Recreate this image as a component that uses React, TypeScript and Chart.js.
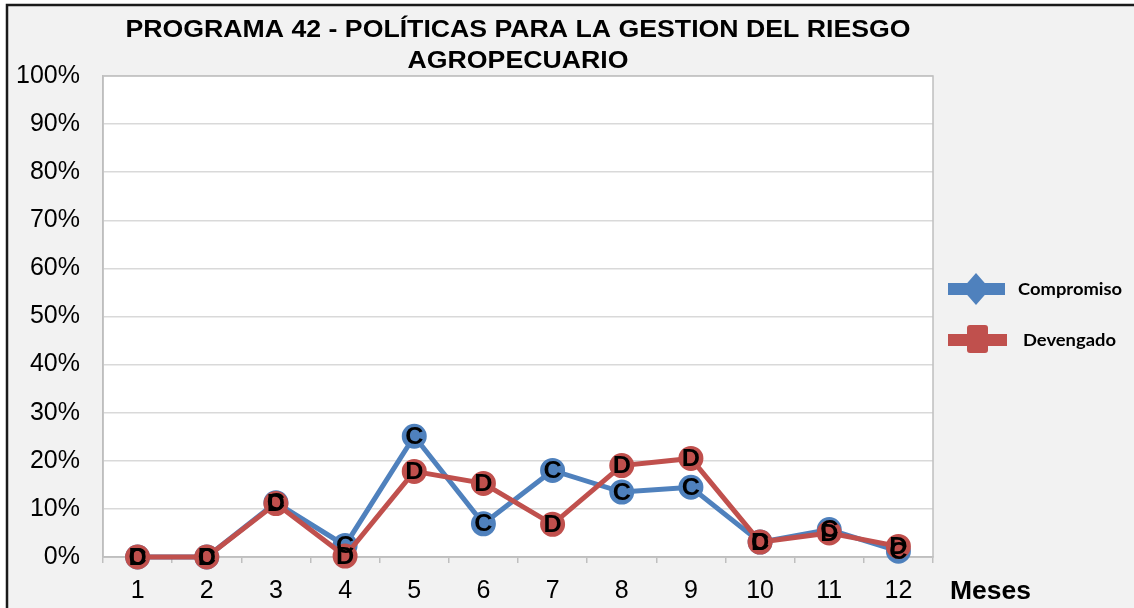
import React, { useEffect, useRef } from "react";
import { Chart, registerables } from "chart.js";

Chart.register(...registerables);

const months = ["1", "2", "3", "4", "5", "6", "7", "8", "9", "10", "11", "12"];
const compromiso = [0, 0, 11.3, 2.4, 25.1, 6.9, 18.0, 13.5, 14.5, 3.1, 5.7, 1.2];
const devengado = [0, 0, 11.1, 0.2, 17.8, 15.3, 6.8, 19.0, 20.5, 3.1, 5.0, 2.2];
const seriesNames = ["Compromiso", "Devengado"];
const pointLetters = ["C", "D"];
const titleLines = ["PROGRAMA 42 - POLÍTICAS PARA LA GESTION DEL RIESGO", "AGROPECUARIO"];
const axisTitle = "Meses";

const BLUE = "#4f81bd";
const RED = "#c0504d";
const STRETCH = 1.135;

function drawStretched(ctx: CanvasRenderingContext2D, text: string, x: number, y: number, font: string, align: "left" | "center", sx = STRETCH) {
  ctx.save();
  ctx.font = font;
  ctx.textBaseline = "middle";
  ctx.textAlign = align;
  ctx.translate(x, y);
  ctx.scale(sx, 1);
  ctx.fillText(text, 0, 0);
  ctx.restore();
}

const decorPlugin = {
  id: "decor",
  beforeDraw(chart: any) {
    const { ctx, chartArea } = chart;
    ctx.save();
    ctx.fillStyle = "#ffffff";
    ctx.fillRect(0, 0, chart.width, chart.height);
    ctx.fillStyle = "#f2f2f2";
    ctx.fillRect(7, 5, chart.width, chart.height);
    ctx.strokeStyle = "#1a1a1a";
    ctx.lineWidth = 2.5;
    ctx.beginPath();
    ctx.moveTo(7, chart.height + 5);
    ctx.lineTo(7, 5);
    ctx.lineTo(chart.width + 5, 5);
    ctx.stroke();
    ctx.fillStyle = "#ffffff";
    ctx.fillRect(chartArea.left, chartArea.top, chartArea.right - chartArea.left, chartArea.bottom - chartArea.top);
    ctx.restore();
  },
  afterDraw(chart: any) {
    const { ctx } = chart;
    ctx.save();
    ctx.fillStyle = "#000000";
    const titleFont = "bold 23.5px 'Liberation Sans', Arial, sans-serif";
    drawStretched(ctx, titleLines[0], 518, 31, titleFont, "center");
    drawStretched(ctx, titleLines[1], 518, 62, titleFont, "center");
    drawStretched(ctx, axisTitle, 950, 592, "bold 25px 'Liberation Sans', Arial, sans-serif", "left", 1.06);
    // legend: Compromiso
    ctx.fillStyle = BLUE;
    ctx.fillRect(948, 283, 57, 12);
    ctx.beginPath();
    ctx.moveTo(976, 273);
    ctx.lineTo(990, 289);
    ctx.lineTo(976, 305);
    ctx.lineTo(962, 289);
    ctx.closePath();
    ctx.fill();
    // legend: Devengado
    ctx.fillStyle = RED;
    ctx.fillRect(948, 334, 59, 12);
    ctx.beginPath();
    (ctx as any).roundRect ? (ctx as any).roundRect(967, 325, 21, 28, 3) : ctx.rect(967, 325, 21, 28);
    ctx.fill();
    ctx.fillStyle = "#000000";
    const legFont = "bold 17px Lato, 'Open Sans', sans-serif";
    drawStretched(ctx, seriesNames[0], 1018, 290, legFont, "left", 1.08);
    drawStretched(ctx, seriesNames[1], 1023, 341, legFont, "left", 1.08);
    ctx.restore();
  },
};

const borderPlugin = {
  id: "plotBorder",
  beforeDatasetsDraw(chart: any) {
    const { ctx, chartArea } = chart;
    ctx.save();
    ctx.strokeStyle = "#bfbfbf";
    ctx.lineWidth = 1.5;
    ctx.strokeRect(chartArea.left, chartArea.top, chartArea.right - chartArea.left, chartArea.bottom - chartArea.top);
    ctx.restore();
  },
};

const letterPlugin = {
  id: "letters",
  afterDatasetsDraw(chart: any) {
    const { ctx } = chart;
    ctx.save();
    ctx.fillStyle = "#000000";
    chart.data.datasets.forEach((ds: any, i: number) => {
      const meta = chart.getDatasetMeta(i);
      meta.data.forEach((pt: any) => {
        drawStretched(ctx, pointLetters[i], pt.x, pt.y + 1, "bold 24px 'Liberation Sans', Arial, sans-serif", "center", 1.05);
      });
    });
    ctx.restore();
  },
};

export default function App() {
  const ref = useRef<HTMLCanvasElement | null>(null);
  useEffect(() => {
    document.body.style.margin = "0";
    const canvas = ref.current!;
    const common = {
      borderWidth: 5,
      pointRadius: 11.5,
      pointBorderWidth: 2,
      tension: 0,
      clip: false as any,
    };
    const chart = new Chart(canvas, {
      type: "line",
      data: {
        labels: months,
        datasets: [
          {
            label: seriesNames[0],
            data: compromiso,
            borderColor: BLUE,
            backgroundColor: BLUE,
            pointBackgroundColor: BLUE,
            pointBorderColor: BLUE,
            order: 2,
            ...common,
          },
          {
            label: seriesNames[1],
            data: devengado,
            borderColor: RED,
            backgroundColor: RED,
            pointBackgroundColor: RED,
            pointBorderColor: RED,
            order: 1,
            ...common,
          },
        ],
      },
      options: {
        animation: false,
        responsive: false,
        maintainAspectRatio: false,
        layout: { padding: { left: 0, top: 76, right: 201, bottom: 0 } },
        plugins: { legend: { display: false }, tooltip: { enabled: false }, title: { display: false } },
        scales: {
          x: {
            type: "category",
            offset: true,
            grid: { offset: true, drawOnChartArea: false, drawTicks: true, tickLength: 6, color: "#bfbfbf", lineWidth: 1.5 },
            border: { color: "#bfbfbf", width: 1.5 },
            ticks: { color: "#000000", padding: 13, font: { size: 25, family: "'Liberation Sans', Arial, sans-serif" }, maxRotation: 0, autoSkip: false },
            afterFit: (scale: any) => { scale.height = 51; },
          },
          y: {
            min: 0,
            max: 100,
            ticks: {
              stepSize: 10,
              color: "#000000",
              padding: 23,
              font: { size: 25, family: "'Liberation Sans', Arial, sans-serif" },
              callback: (v: any) => `${v}%`,
            },
            grid: { color: "#d9d9d9", lineWidth: 1.5, drawTicks: false },
            border: { color: "#bfbfbf", width: 1.5 },
            afterFit: (scale: any) => { scale.width = 103; },
          },
        },
      },
      plugins: [decorPlugin, borderPlugin, letterPlugin],
    });
    return () => chart.destroy();
  }, []);
  return (
    <div style={{ position: "absolute", left: 0, top: 0, width: 1134, height: 608 }}>
      <canvas ref={ref} width={1134} height={608} style={{ display: "block", width: 1134, height: 608 }} />
    </div>
  );
}
